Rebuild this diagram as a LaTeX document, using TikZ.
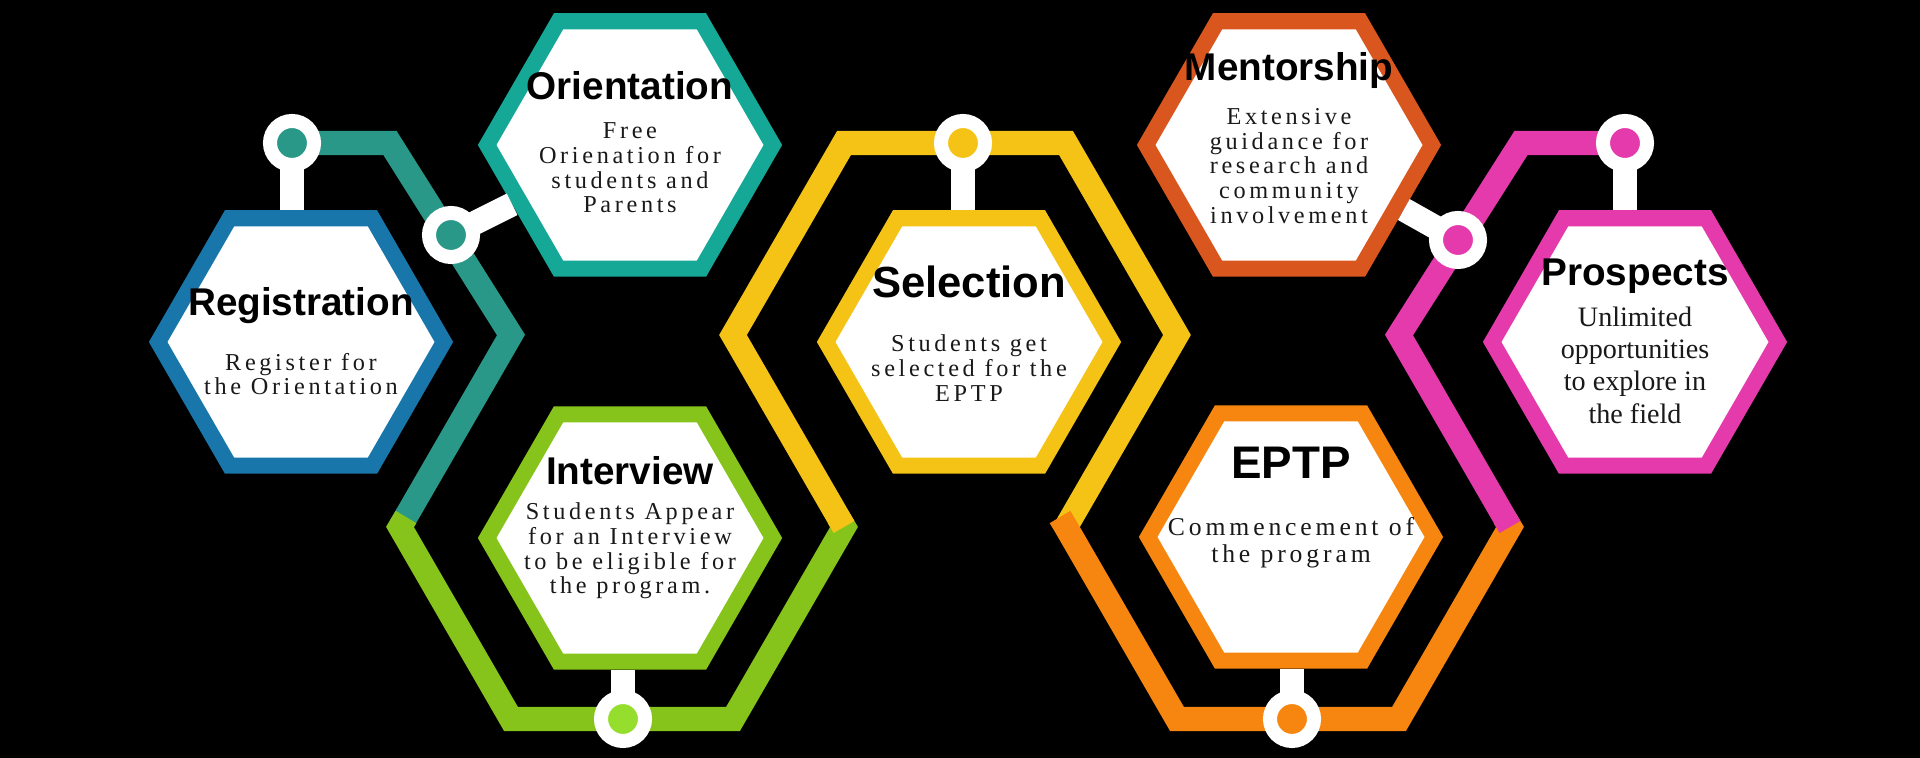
\documentclass[tikz,border=0pt]{standalone}
\usepackage{fontspec}
\setmainfont{Liberation Serif}
\newfontfamily\titlefont{Liberation Sans}
\newfontfamily\spacedfont[LetterSpace=15]{Liberation Serif}
\usepackage{tikz}
\usetikzlibrary{shapes.geometric}
\usetikzlibrary{positioning}
\definecolor{regblue}{RGB}{24,118,170}
\definecolor{oriteal}{RGB}{22,168,150}
\definecolor{trackteal}{RGB}{42,152,136}
\definecolor{intgreen}{RGB}{134,196,28}
\definecolor{dotgreen}{RGB}{150,222,45}
\definecolor{selyellow}{RGB}{245,195,22}
\definecolor{menorange}{RGB}{217,86,30}
\definecolor{eptporange}{RGB}{247,134,16}
\definecolor{propink}{RGB}{228,58,172}
\tikzset{hexbox/.style = {regular polygon, regular polygon sides = 6, minimum size = 2.856cm,
                          inner sep = 0, line width = 0.16cm, fill = white, draw = #1}}
\tikzset{track/.style = {line width = 0.24cm, draw = #1}}
\tikzset{knob/.style = {circle, inner sep = 0, minimum size = 0.44cm, line width = 0.14cm,
                        draw = white, fill = #1}}
\tikzset{stem/.style = {line width = 0.24cm, white, shorten <= -1pt}}
\tikzset{headline/.style = {font = \titlefont\bfseries\fontsize{11}{12}\selectfont, inner sep = 0}}
\tikzset{blurb/.style = {align = center, inner sep = 0, text = black!90,
                         font = \spacedfont\fontsize{6.9}{7}\selectfont}}
\begin{document}
\begin{tikzpicture}[x = 0.01cm, y = -0.01cm]
        \fill [black] (0, 0) rectangle (1920, 758);
        \useasboundingbox (0, 0) rectangle (1920, 758);
        % outer tracks
        \draw [track = trackteal] (292, 143) -- (390, 143) -- (511, 335) -- (400, 527);
        \draw [track = intgreen] (406, 517) -- (400, 527) -- (511, 719) -- (733, 719) -- (844, 527) -- (838, 517);
        \draw [track = selyellow] (844, 527) -- (733, 335) -- (844, 143) -- (1066, 143) -- (1177, 335) -- (1066, 527);
        \draw [track = eptporange] (1060, 517) -- (1066, 527) -- (1177, 719) -- (1399, 719) -- (1510, 527) -- (1504, 517);
        \draw [track = propink] (1510, 527) -- (1399, 335) -- (1521, 143) -- (1625, 143);
        % steps
        \node (reg) at (301, 342) [hexbox = regblue] {};
        \node (ori) at (630, 145) [hexbox = oriteal] {};
        \node (int) at (630, 538) [hexbox = intgreen] {};
        \node (sel) at (969, 342) [hexbox = selyellow] {};
        \node (men) at (1289, 145) [hexbox = menorange] {};
        \node (eptp) at (1291, 537) [hexbox = eptporange] {};
        \node (pro) at (1635, 342) [hexbox = propink] {};
        % knobs
        \node (regdot) at (292, 143) [knob = trackteal] {};
        \node (oridot) at (451, 235) [knob = trackteal] {};
        \node (intdot) at (623, 719) [knob = dotgreen] {};
        \node (seldot) at (963, 143) [knob = selyellow] {};
        \node (mendot) at (1458, 240) [knob = propink] {};
        \node (eptpdot) at (1292, 719) [knob = eptporange] {};
        \node (prodot) at (1625, 143) [knob = propink] {};
        \draw [stem] (regdot) -- (regdot |- reg.north);
        \draw [stem] (oridot) -- (ori);
        \draw [stem] (intdot) -- (intdot |- int.south);
        \draw [stem] (seldot) -- (seldot |- sel.north);
        \draw [stem] (mendot) -- (men);
        \draw [stem] (eptpdot) -- (eptpdot |- eptp.south);
        \draw [stem] (prodot) -- (prodot |- pro.north);
        % texts
        \node (regT) at (301, 306) [headline] {Registration};
        \node (regB) at (301, 374) [blurb] {Register for\\the Orientation};
        \node (oriT) at (630, 86) [headline] {Orientation};
        \node (oriB) at (630, 168) [blurb] {Free\\Orienation for\\students and\\Parents};
        \node (intT) at (630, 471) [headline] {Interview};
        \node (intB) at (630, 551) [blurb] {Students Appear\\for an Interview\\to be eligible for\\the program.};
        \node (selT) at (969, 282) [headline, font = \titlefont\bfseries\fontsize{12.4}{13}\selectfont] {Selection};
        \node (selB) at (969, 368) [blurb] {Students get\\selected for the\\EPTP};
        \node (menT) at (1289, 71) [headline] {Mentorship};
        \node (menB) at (1289, 166) [blurb] {Extensive\\guidance for\\research and\\community\\involvement};
        \node (eptpT) at (1291, 463) [headline, font = \titlefont\bfseries\fontsize{13}{14}\selectfont] {EPTP};
        \node (eptpB) at (1291, 543) [blurb, font = \spacedfont\fontsize{7.3}{7.8}\selectfont] {Commencement of\\the program};
        \node (proT) at (1635, 276) [headline] {Prospects};
        \node (proB) at (1635, 365) [blurb, font = \fontsize{8}{9.2}\selectfont] {Unlimited\\opportunities\\to explore in\\the field};
      \end{tikzpicture}
\end{document}
